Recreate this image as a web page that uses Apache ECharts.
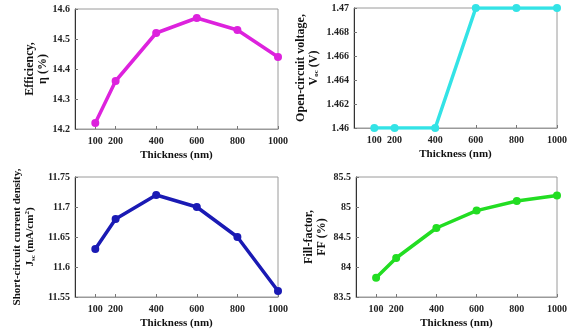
<!DOCTYPE html>
<html><head><meta charset="utf-8">
<script src="https://cdn.jsdelivr.net/npm/echarts@6/dist/echarts.min.js"></script>
<style>html,body{margin:0;padding:0;background:#fff}#c{width:574px;height:333px}</style>
</head><body><div id="c"></div>
<script>
const thickness = [100, 200, 400, 600, 800, 1000];
const xTickLabels = [100, 200, 400, 600, 800, 1000];
const efficiency = [14.22, 14.36, 14.52, 14.57, 14.53, 14.44];
const voc = [1.46, 1.46, 1.46, 1.47, 1.47, 1.47];
const jsc = [11.63, 11.68, 11.72, 11.70, 11.65, 11.56];
const ff = [83.82, 84.15, 84.65, 84.94, 85.10, 85.19];

const FONT = '"Liberation Serif", "Times New Roman", serif';
const chart = echarts.init(document.getElementById('c'));

const grids = [
  {left: 75, top: 9, width: 203, height: 120},
  {left: 354, top: 8, width: 203, height: 120},
  {left: 75, top: 177, width: 203, height: 120},
  {left: 356, top: 177, width: 201, height: 120}
];
function mkRich(fs) {
  return {
    t: {fontFamily: FONT, fontWeight: 'bold', fontSize: fs, color: '#111', lineHeight: 13},
    s: {fontFamily: FONT, fontWeight: 'bold', fontSize: 7, color: '#111', verticalAlign: 'bottom', lineHeight: 13, padding: [4, 0, 0, 0]},
    p: {fontFamily: FONT, fontWeight: 'bold', fontSize: 7, color: '#111', verticalAlign: 'top', lineHeight: 13, padding: [0, 0, 4, 0]}
  };
}
const panels = [
  {data: efficiency, color: '#dd22dd', min: 14.2, max: 14.6, interval: 0.1,
   name: '{t|Efficiency,}\n{t|η (%)}', gap: 23, fs: 12},
  {data: voc, color: '#33e3e6', min: 1.46, max: 1.47, interval: 0.002,
   name: '{t|Open-circuit voltage,}\n{t|V}{s|oc}{t| (V)}', gap: 34, fs: 12},
  {data: jsc, color: '#1a1ab4', min: 11.55, max: 11.75, interval: 0.05,
   name: '{t|Short-circuit current density,}\n{t|J}{s|sc}{t| (mA/cm}{p|2}{t|)}', gap: 38, fs: 11},
  {data: ff, color: '#22dd22', min: 83.5, max: 85.5, interval: 0.5,
   name: '{t|Fill-factor,}\n{t|FF (%)}', gap: 28, fs: 12}
];

const option = {
  animation: false,
  backgroundColor: '#fff',
  grid: grids.map(g => Object.assign({show: true, borderColor: '#9a9a9a', borderWidth: 1, backgroundColor: 'transparent'}, g)),
  xAxis: panels.map((p, i) => ({
    type: 'value', gridIndex: i, min: 0, max: 1000,
    name: 'Thickness (nm)', nameLocation: 'middle', nameGap: 21,
    nameTextStyle: {fontFamily: FONT, fontWeight: 'bold', fontSize: 11, color: '#111'},
    axisLine: {show: true, lineStyle: {color: '#9a9a9a', width: 1}},
    axisTick: {show: true, inside: true, length: 3, customValues: xTickLabels, lineStyle: {color: '#777'}},
    axisLabel: {customValues: xTickLabels, formatter: v => String(v), fontFamily: FONT, fontWeight: 'bold', fontSize: 10, color: '#222', margin: 7},
    splitLine: {show: false}
  })),
  yAxis: panels.map((p, i) => ({
    type: 'value', gridIndex: i, min: p.min, max: p.max, interval: p.interval,
    name: p.name, nameLocation: 'middle', nameGap: p.gap, nameRotate: 90,
    nameTextStyle: {rich: mkRich(p.fs), align: 'center'},
    axisLine: {show: true, lineStyle: {color: '#333', width: 1}},
    axisTick: {show: true, inside: true, length: 3, lineStyle: {color: '#777'}},
    axisLabel: {fontFamily: FONT, fontWeight: 'bold', fontSize: 10, color: '#222', margin: 5},
    splitLine: {show: false}
  })),
  series: panels.map((p, i) => ({
    type: 'line', xAxisIndex: i, yAxisIndex: i,
    data: thickness.map((t, k) => [t, p.data[k]]),
    symbol: 'circle', symbolSize: 8,
    lineStyle: {color: p.color, width: 3.5},
    itemStyle: {color: p.color},
    z: 3
  }))
};
chart.setOption(option);
</script></body></html>
